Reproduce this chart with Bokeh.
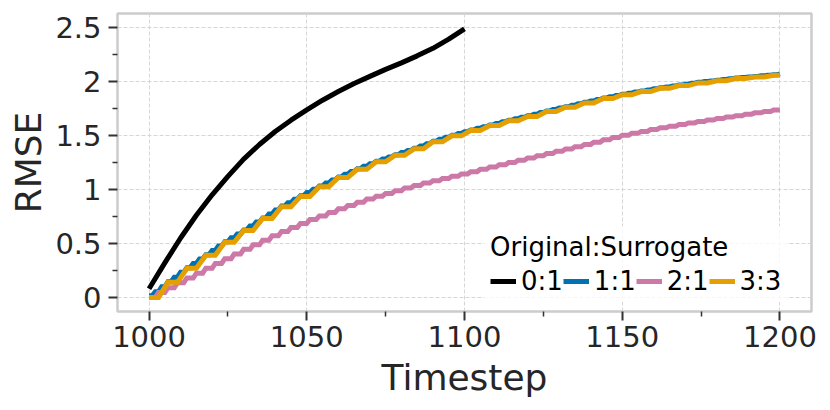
from bokeh.plotting import figure
from bokeh.models import Range1d, FixedTicker, Legend, LegendItem
from bokeh.embed import file_html
from bokeh.resources import INLINE

# ---------------- data ----------------
x_ticks = [1000, 1050, 1100, 1150, 1200]
x_tick_labels = ["1000", "1050", "1100", "1150", "1200"]
x_minor = [1025, 1075, 1125, 1175]
y_ticks = [0, 0.5, 1, 1.5, 2, 2.5]
y_tick_labels = ["0", "0.5", "1", "1.5", "2", "2.5"]
y_minor = [0.25, 0.75, 1.25, 1.75, 2.25]

series_labels = ["0:1", "1:1", "2:1", "3:3"]
series_colors = ["#000000", "#0072B2", "#CC79A7", "#E69F00"]
# original / surrogate steps per cycle
orig_steps = [0, 1, 2, 3]
surr_steps = [1, 1, 1, 3]

# 0:1 (smooth)
black_t = [1000, 1005, 1010, 1015, 1020, 1025, 1030, 1035, 1040, 1045, 1050,
           1055, 1060, 1065, 1070, 1075, 1080, 1085, 1090, 1095, 1100]
black_rmse = [0.08, 0.32, 0.55, 0.76, 0.95, 1.12, 1.28, 1.415, 1.535, 1.64, 1.735,
              1.825, 1.905, 1.98, 2.045, 2.11, 2.17, 2.235, 2.305, 2.39, 2.485]

# 1:1 plateau levels (one per 2-step cycle, starting 1000)
blue_levels = [0.015, 0.052, 0.098, 0.145, 0.188, 0.232, 0.275, 0.315, 0.355, 0.395,
               0.435, 0.475, 0.515, 0.552, 0.588, 0.625, 0.662, 0.698, 0.735, 0.772,
               0.808, 0.845, 0.877, 0.908, 0.94, 0.97, 1.0, 1.03, 1.058, 1.087,
               1.115, 1.14, 1.165, 1.19, 1.213, 1.237, 1.26, 1.28, 1.3, 1.32,
               1.34, 1.36, 1.38, 1.402, 1.423, 1.445, 1.463, 1.482, 1.5, 1.517,
               1.533, 1.55, 1.565, 1.58, 1.595, 1.61, 1.625, 1.64, 1.653, 1.667,
               1.68, 1.695, 1.71, 1.725, 1.738, 1.752, 1.765, 1.778, 1.792, 1.805,
               1.818, 1.832, 1.845, 1.857, 1.868, 1.88, 1.89, 1.9, 1.91, 1.92,
               1.93, 1.94, 1.948, 1.957, 1.965, 1.973, 1.982, 1.99, 1.997, 2.003,
               2.01, 2.017, 2.023, 2.03, 2.035, 2.04, 2.045, 2.05, 2.055, 2.06,
               2.068]

# 2:1 plateau levels (one per 3-step cycle)
pink_levels = [0.0, 0.045, 0.09, 0.135, 0.18, 0.225, 0.27, 0.315, 0.358, 0.402,
               0.445, 0.487, 0.529, 0.571, 0.61, 0.648, 0.685, 0.721, 0.754, 0.787,
               0.82, 0.85, 0.88, 0.91, 0.937, 0.962, 0.988, 1.013, 1.035, 1.058,
               1.08, 1.101, 1.122, 1.143, 1.164, 1.185, 1.206, 1.227, 1.248, 1.269,
               1.29, 1.311, 1.332, 1.353, 1.374, 1.395, 1.416, 1.437, 1.458, 1.479,
               1.5, 1.518, 1.536, 1.554, 1.57, 1.585, 1.6, 1.615, 1.628, 1.642,
               1.655, 1.669, 1.682, 1.696, 1.708, 1.72, 1.735]

# 3:3 plateau levels (one per 6-step cycle)
orange_levels = [0.0, 0.14, 0.27, 0.39, 0.51, 0.62, 0.73, 0.84, 0.935, 1.025,
                 1.11, 1.185, 1.255, 1.315, 1.375, 1.44, 1.495, 1.545, 1.59, 1.635,
                 1.675, 1.72, 1.76, 1.8, 1.84, 1.875, 1.905, 1.935, 1.96, 1.985,
                 2.005, 2.025, 2.04, 2.055]

t_start = 1000
t_end = 1200


def stair(levels, n_orig, n_surr):
    """flat during original steps, rising during surrogate steps"""
    xs, ys = [], []
    period = n_orig + n_surr
    for k, v in enumerate(levels):
        a = t_start + k * period
        b = min(a + n_orig, t_end)
        xs += [a, b]
        ys += [v, v]
    return xs, ys


TXT = "#262626"
FONT = "DejaVu Sans"

p = figure(width=830, height=410, output_backend="svg", toolbar_location=None,
           x_range=Range1d(990, 1210), y_range=Range1d(-0.13, 2.627),
           min_border_left=117, min_border_right=19, min_border_top=13,
           min_border_bottom=99)
p.background_fill_color = "white"
p.border_fill_color = "white"
p.outline_line_color = "#cccccc"
p.outline_line_width = 2.5

renderers = []
r0 = p.line(black_t, black_rmse, color=series_colors[0], line_width=5,
            line_join="round")
renderers.append(r0)
for levels, i in [(blue_levels, 1), (pink_levels, 2), (orange_levels, 3)]:
    xs, ys = stair(levels, orig_steps[i], surr_steps[i])
    r = p.line(xs, ys, color=series_colors[i], line_width=5, line_join="miter")
    renderers.append(r)

# axes
p.xaxis.ticker = FixedTicker(ticks=x_ticks, minor_ticks=x_minor)
p.yaxis.ticker = FixedTicker(ticks=y_ticks, minor_ticks=y_minor)
p.xaxis.major_label_overrides = dict(zip(x_ticks, x_tick_labels))
p.yaxis.major_label_overrides = dict(zip(y_ticks, y_tick_labels))
p.xaxis.axis_label = "Timestep"
p.yaxis.axis_label = "RMSE"
for ax in (p.xaxis, p.yaxis):
    ax.axis_line_color = None
    ax.major_tick_in = 0
    ax.major_tick_out = 9
    ax.minor_tick_in = 0
    ax.minor_tick_out = 5
    ax.major_tick_line_color = "#333333"
    ax.minor_tick_line_color = "#333333"
    ax.major_tick_line_width = 2
    ax.minor_tick_line_width = 1.5
    ax.major_label_text_font = FONT
    ax.major_label_text_font_size = "29px"
    ax.major_label_text_color = TXT
    ax.axis_label_text_font = FONT
    ax.axis_label_text_font_size = "36px"
    ax.axis_label_text_font_style = "normal"
    ax.axis_label_text_color = TXT
p.xaxis.major_label_standoff = 5
p.yaxis.major_label_standoff = 7
p.xaxis.axis_label_standoff = 7
p.yaxis.axis_label_standoff = 3

for g in (p.xgrid, p.ygrid):
    g.grid_line_color = "#d6d6d6"
    g.grid_line_width = 1
    g.grid_line_dash = "4 2"

legend = Legend(
    items=[LegendItem(label=lab, renderers=[r]) for lab, r in zip(series_labels, renderers)],
    title="Original:Surrogate", orientation="horizontal", location=(367, 9),
    margin=0, padding=6, spacing=0, label_standoff=5,
    glyph_width=26, glyph_height=26, label_height=26,
    title_standoff=4,
)
legend.title_text_font = FONT
legend.title_text_font_size = "26px"
legend.title_text_font_style = "normal"
legend.title_text_color = "#000000"
legend.label_text_font = FONT
legend.label_text_font_size = "26px"
legend.label_text_color = "#000000"
legend.background_fill_color = "white"
legend.background_fill_alpha = 0.8
legend.border_line_alpha = 0
p.add_layout(legend)

open("out.html", "w").write(file_html(p, INLINE))
